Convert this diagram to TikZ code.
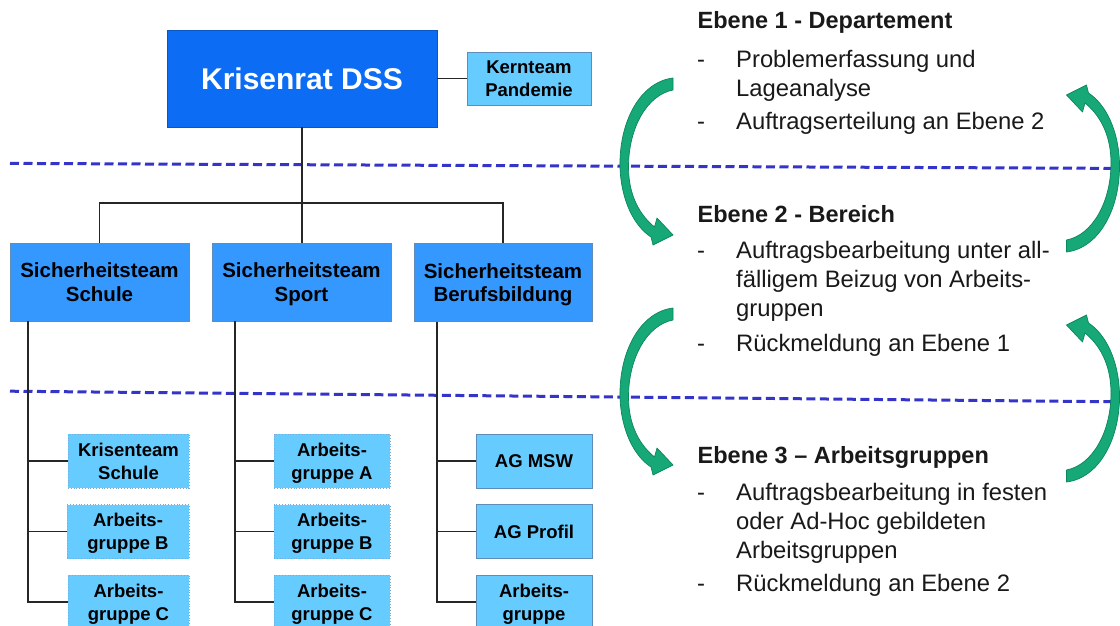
\documentclass[tikz,border=0pt]{standalone}
\usepackage{fontspec}
\setmainfont{Liberation Sans}
\definecolor{topblue}{RGB}{12,108,244}
\definecolor{midblue}{RGB}{52,152,255}
\definecolor{ltblue}{RGB}{102,204,255}
\definecolor{boxedge}{RGB}{96,140,186}
\definecolor{dotedge}{RGB}{120,170,215}
\definecolor{dashblue}{RGB}{52,52,200}
\definecolor{arrowgreen}{RGB}{22,168,118}
\definecolor{arrowdark}{RGB}{10,135,95}
\newcommand{\myGreenArrow}{%
  \filldraw[fill=arrowgreen,draw=arrowdark,line width=0.7pt,line join=round]
    (26,-84.5) .. controls (-7,-80.5) and (-28,-40.5) .. (-27,4.5)
    .. controls (-26,37.5) and (-13,63.5) .. (4,74.5)
    -- (6,82.5) -- (26,72.5) -- (10,55.5) -- (7.5,64.5)
    .. controls (-6,53.5) and (-18.5,34.5) .. (-18.5,4.5)
    .. controls (-18.5,-34.5) and (0,-67.5) .. (26,-72.5) -- cycle;}
\begin{document}
\begin{tikzpicture}[x=1pt,y=-1pt,
  topbox/.style={fill=topblue,draw=topblue!80!black,line width=0.6pt,inner sep=0pt,
    minimum width=270pt,minimum height=97pt,text=white,
    font=\fontsize{30}{36}\selectfont\bfseries},
  midbox/.style={fill=midblue,draw=boxedge,line width=0.6pt,inner sep=0pt,
    minimum width=179pt,minimum height=78pt,align=center,text depth=0pt,
    font=\fontsize{20.5}{23.5}\selectfont\bfseries},
  ltbox/.style={fill=ltblue,inner sep=0pt,minimum width=116pt,minimum height=54pt,
    align=center,text depth=0pt,font=\fontsize{18.5}{23}\selectfont\bfseries},
  solidedge/.style={draw=boxedge,line width=0.8pt},
  dotedge/.style={draw=dotedge,dotted,line width=0.8pt},
  conn/.style={draw=black!85,line width=1.8pt},
  dashline/.style={draw=dashblue,line width=3pt,dash pattern=on 9pt off 4.5pt},
  bodytxt/.style={anchor=base west,inner sep=0pt,text=black!90,
    font=\fontsize{23.8}{28}\selectfont},
  headtxt/.style={anchor=base west,inner sep=0pt,text=black!90,
    font=\fontsize{23.5}{28}\selectfont\bfseries}]
\useasboundingbox (0,0) rectangle (1120,626);
\clip (0,0) rectangle (1120,626);
\fill[white] (0,0) rectangle (1120,626);

% dashed level separators
\coordinate (d1a) at (10,163.4);
\coordinate (d1b) at (1120,168.4);
\coordinate (d2a) at (10,391.2);
\coordinate (d2b) at (1120,401.8);
\draw[dashline] (d1a) -- (d1b);
\draw[dashline] (d2a) -- (d2b);

% boxes
\node[topbox] (kr) at (302,78.5) {Krisenrat DSS};
\node[ltbox,solidedge,minimum width=124pt,minimum height=53pt] (kt) at (529,78.5) {Kernteam\\Pandemie};
\node[midbox] (s1) at (99.5,282) {Sicherheitsteam\\Schule};
\node[midbox] (s2) at (301.5,282) {Sicherheitsteam\\Sport};
\node[midbox,minimum width=178pt] (s3) at (503,282.5) {Sicherheitsteam\\Berufsbildung};

\node[ltbox,dotedge,minimum width=121pt] (c11) at (128.5,461) {Krisenteam\\Schule};
\node[ltbox,dotedge,minimum width=122pt] (c12) at (128,531.5) {Arbeits-\\gruppe B};
\node[ltbox,dotedge,minimum width=121pt] (c13) at (128.5,602) {Arbeits-\\gruppe C};
\node[ltbox,dotedge] (c21) at (332,461) {Arbeits-\\gruppe A};
\node[ltbox,dotedge] (c22) at (332,531.5) {Arbeits-\\gruppe B};
\node[ltbox,dotedge] (c23) at (332,602) {Arbeits-\\gruppe C};
\node[ltbox,solidedge] (c31) at (534,461) {AG MSW};
\node[ltbox,solidedge] (c32) at (534,531.5) {AG Profil};
\node[ltbox,solidedge] (c33) at (534,602) {Arbeits-\\gruppe};

% connectors
\coordinate (hub) at (302,203);
\draw[conn] (kr.east) -- (kt.west);
\draw[conn] (kr.south) -- (kr.south |- s2.north);
\draw[conn] (s1.north) |- (hub) -| (s3.north);
\coordinate (v1) at (28,0);
\coordinate (v2) at (235,0);
\coordinate (v3) at (437,0);
\draw[conn] (s1.south -| v1) |- (c13.west);
\draw[conn] (c11.west -| v1) -- (c11.west);
\draw[conn] (c12.west -| v1) -- (c12.west);
\draw[conn] (s2.south -| v2) |- (c23.west);
\draw[conn] (c21.west -| v2) -- (c21.west);
\draw[conn] (c22.west -| v2) -- (c22.west);
\draw[conn] (s3.south -| v3) |- (c33.west);
\draw[conn] (c31.west -| v3) -- (c31.west);
\draw[conn] (c32.west -| v3) -- (c32.west);

% curved arrows
\begin{scope}[shift={(647,162.5)}]\myGreenArrow\end{scope}
\begin{scope}[shift={(647,392.5)}]\myGreenArrow\end{scope}
\begin{scope}[shift={(1092.5,167.5)},rotate=180]\myGreenArrow\end{scope}
\begin{scope}[shift={(1092.5,397.5)},rotate=180]\myGreenArrow\end{scope}

% right-hand text
\node[headtxt] (h1) at (697.5,29) {Ebene 1 - Departement};
\node[bodytxt] (m1) at (697,67) {-};
\node[bodytxt] (l1) at (736,67) {Problemerfassung und};
\node[bodytxt] (l2) at (736,96) {Lageanalyse};
\node[bodytxt] (m2) at (697,129) {-};
\node[bodytxt] (l3) at (736,129) {Auftragserteilung an Ebene 2};

\node[headtxt] (h2) at (697.5,222.7) {Ebene 2 - Bereich};
\node[bodytxt] (m3) at (697,258.7) {-};
\node[bodytxt] (l4) at (736,258.7) {Auftragsbearbeitung unter all-};
\node[bodytxt] (l5) at (736,287.7) {fälligem Beizug von Arbeits-};
\node[bodytxt] (l6) at (736,316.7) {gruppen};
\node[bodytxt] (m4) at (697,351.7) {-};
\node[bodytxt] (l7) at (736,351.7) {Rückmeldung an Ebene 1};

\node[headtxt] (h3) at (697.5,463.3) {Ebene 3 – Arbeitsgruppen};
\node[bodytxt] (m5) at (697,500.5) {-};
\node[bodytxt] (l8) at (736,500.5) {Auftragsbearbeitung in festen};
\node[bodytxt] (l9) at (736,529.5) {oder Ad-Hoc gebildeten};
\node[bodytxt] (l10) at (736,558.5) {Arbeitsgruppen};
\node[bodytxt] (m6) at (697,591) {-};
\node[bodytxt] (l11) at (736,591) {Rückmeldung an Ebene 2};
\end{tikzpicture}
\end{document}
